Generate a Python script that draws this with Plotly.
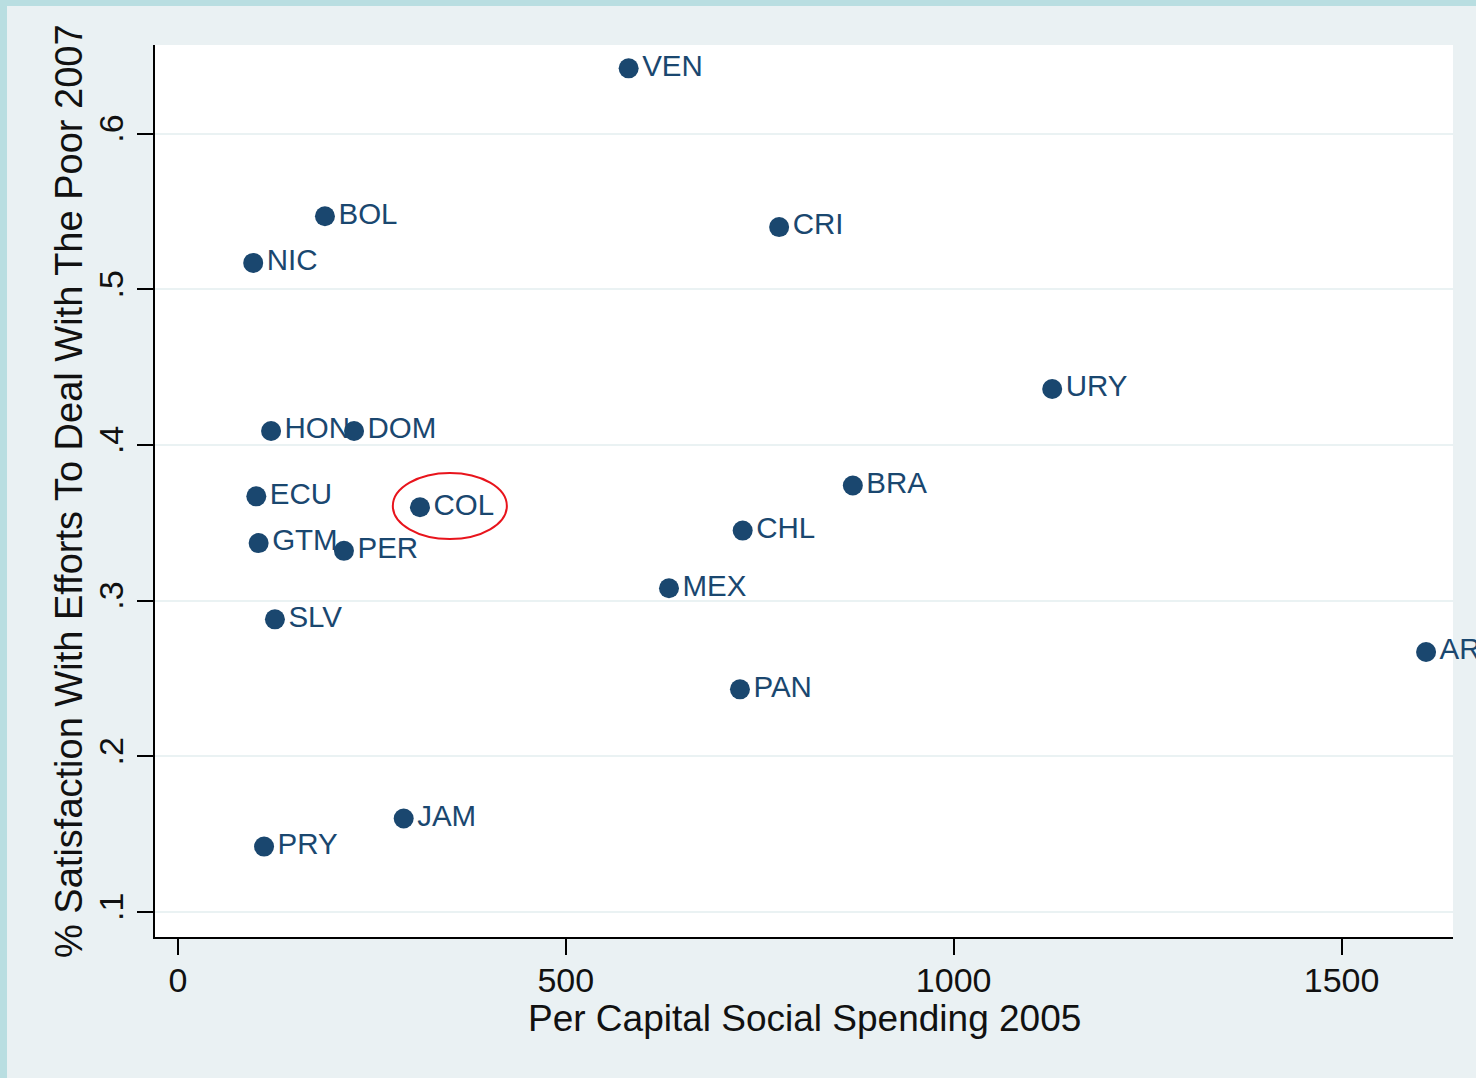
import plotly.graph_objects as go

countries = ["VEN", "BOL", "CRI", "NIC", "URY", "HON", "DOM", "BRA", "ECU", "COL",
             "CHL", "GTM", "PER", "MEX", "SLV", "ARG", "PAN", "JAM", "PRY"]
spending = [581, 189.5, 775, 97, 1127, 120, 227, 870, 101, 312,
            728, 104, 214, 633, 125, 1609, 724.5, 291, 111]
satisfaction = [0.642, 0.547, 0.540, 0.517, 0.436, 0.409, 0.409, 0.374, 0.367, 0.360,
                0.345, 0.337, 0.332, 0.308, 0.288, 0.267, 0.243, 0.160, 0.142]

x_ticks = [0, 500, 1000, 1500]
x_ticklabels = ["0", "500", "1000", "1500"]
y_ticks = [0.1, 0.2, 0.3, 0.4, 0.5, 0.6]
y_ticklabels = [".1", ".2", ".3", ".4", ".5", ".6"]

x_title = "Per Capital Social Spending 2005"
y_title = "% Satisfaction With Efforts To Deal With The Poor 2007"

highlight_box = {"x0": 277, "x1": 424, "y0": 0.3396, "y1": 0.382}

W, H = 1476, 1078
ML, MR, MT, MB = 155, 23, 45, 141
NAVY = "#1A476F"
FONT = "Liberation Sans, Arial, sans-serif"
TXT = "#111111"

fig = go.Figure()
fig.add_trace(go.Scatter(
    x=spending, y=satisfaction, text=countries,
    mode="markers+text", textposition="middle right",
    marker=dict(size=20, color=NAVY),
    textfont=dict(family=FONT, size=29.5, color=NAVY),
    cliponaxis=False, showlegend=False, hoverinfo="skip",
))

fig.add_shape(type="circle", xref="x", yref="y",
              x0=highlight_box["x0"], x1=highlight_box["x1"],
              y0=highlight_box["y0"], y1=highlight_box["y1"],
              line=dict(color="#E8141C", width=2))

pw = W - ML - MR
ph = H - MT - MB
# teal frame strips on top and left edges of the figure
fig.add_shape(type="rect", xref="paper", yref="paper",
              x0=-ML / pw - 0.01, x1=(7 - ML) / pw, y0=-MB / ph - 0.01, y1=1 + MT / ph + 0.01,
              fillcolor="#B9DEE1", line=dict(width=0))
fig.add_shape(type="rect", xref="paper", yref="paper",
              x0=-ML / pw - 0.01, x1=1 + MR / pw + 0.01, y0=1 + (MT - 6) / ph, y1=1 + MT / ph + 0.01,
              fillcolor="#B9DEE1", line=dict(width=0))

# axis titles as annotations for exact placement
fig.add_annotation(text=x_title, xref="paper", yref="paper", x=0.5, y=0,
                   xanchor="center", yanchor="middle", yshift=-81, showarrow=False,
                   font=dict(family=FONT, size=37, color=TXT))
fig.add_annotation(text=y_title, xref="paper", yref="paper", x=0, y=0.5,
                   xanchor="center", yanchor="middle", xshift=-86, textangle=-90,
                   showarrow=False, font=dict(family=FONT, size=38, color=TXT))

fig.update_layout(
    width=W, height=H,
    margin=dict(l=ML, r=MR, t=MT, b=MB, autoexpand=False),
    paper_bgcolor="#EAF1F3", plot_bgcolor="white",
    font=dict(family=FONT, size=34, color=TXT),
)
fig.update_xaxes(
    range=[-29.6, 1643.7], tickvals=x_ticks, ticktext=x_ticklabels,
    showgrid=False, zeroline=False, showline=True, linecolor="black", linewidth=2,
    ticks="outside", ticklen=16, tickwidth=2, tickcolor="black",
    tickfont=dict(size=34, color=TXT), ticklabelstandoff=-4, automargin=False,
)
fig.update_yaxes(
    range=[0.0839, 0.657], tickvals=y_ticks, ticktext=y_ticklabels, tickangle=-90,
    showgrid=True, gridcolor="#EAF2F3", gridwidth=2,
    zeroline=False, showline=True, linecolor="black", linewidth=2,
    ticks="outside", ticklen=16, tickwidth=2, tickcolor="black",
    tickfont=dict(size=34, color=TXT), automargin=False,
)

fig.write_html(
    "out.html",
    config={"displayModeBar": False},
    post_script="document.body.style.margin='0';document.body.style.overflow='hidden';",
)
